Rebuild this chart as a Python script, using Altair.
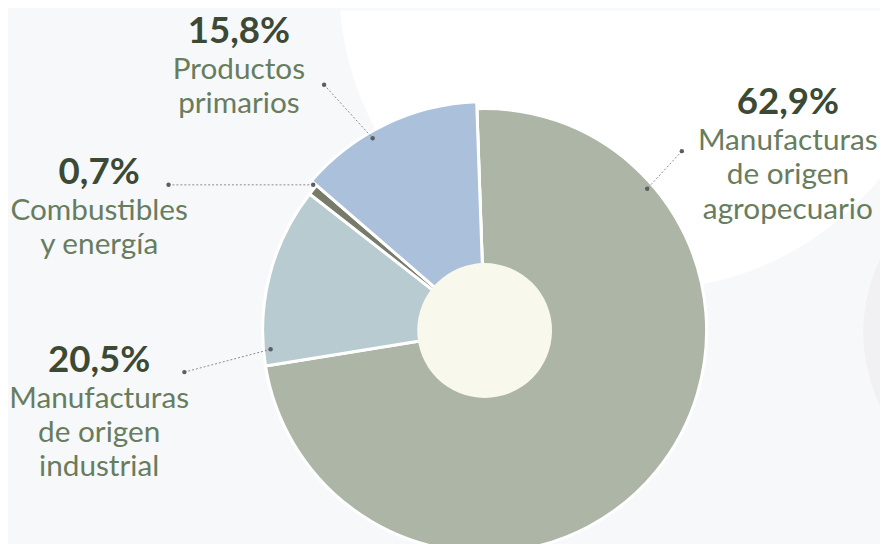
import math
import altair as alt
import pandas as pd

# ---------------- data ----------------
categories = [
    "Manufacturas de origen agropecuario",
    "Manufacturas de origen industrial",
    "Combustibles y energía",
    "Productos primarios",
]
pct_labels = ["62,9%", "20,5%", "0,7%", "15,8%"]
# angular share of each slice as it is drawn in the picture (percent of the circle)
arc_share = [73.0, 13.1, 0.8, 13.1]
name_lines = [
    ["Manufacturas", "de origen", "agropecuario"],
    ["Manufacturas", "de origen", "industrial"],
    ["Combustibles", "y energía"],
    ["Productos", "primarios"],
]

# ---------------- style / layout ----------------
slice_colors = ["#adb5a7", "#b8cbd1", "#767b6a", "#abc0da"]
PCT_COLOR = "#3c4a35"
NAME_COLOR = "#687c5e"
BG = "#f7f8fa"
FONT = "Lato"

M = 8  # page margin: layout below is given in page pixels
W, H = 888 - M, 544 - M
CX, CY = 489 - M, 331 - M
R_OUT, R_BLUE, R_IN = 224, 231, 68
START = math.radians(-2.0)

# label anchor (centre x, baseline of percentage) per category, page pixels
label_anchor = [(795, 113), (100, 373), (100, 183), (241, 41)]
# leader line (outer end, inner end) per category, page pixels
leader = [((688, 150), (653, 188)), ((186, 373), (273, 350)),
          ((170, 184), (316, 184)), ((327, 83), (376, 137))]
LINE_OFFS = [36, 70.5, 105]

# ---------------- tables ----------------
slice_df = pd.DataFrame({"cat": categories, "share": arc_share,
                         "order": list(range(len(categories)))})

pct_rows, name_rows = [], []
for i, cat in enumerate(categories):
    ax, ay = label_anchor[i]
    pct_rows.append({"text": pct_labels[i], "x": ax - M, "y": ay - M})
    for j, line in enumerate(name_lines[i]):
        name_rows.append({"text": line, "x": ax - M, "y": ay + LINE_OFFS[j] - M})
pct_df = pd.DataFrame(pct_rows)
name_df = pd.DataFrame(name_rows)

rule_df = pd.DataFrame([{"x": a[0] - M, "y": a[1] - M, "x2": b[0] - M, "y2": b[1] - M}
                        for a, b in leader])
dot_df = pd.DataFrame([{"x": p[0] - M, "y": p[1] - M} for ab in leader for p in ab])

one = alt.Data(values=[{"k": 0}])
FULL = 2 * math.pi

# ---------------- decorative background ----------------
white_blob = alt.Chart(one).mark_arc(
    theta=0, theta2=FULL, outerRadius=308, color="#ffffff", clip=True
).encode(x=alt.value(650 - M), y=alt.value(-18 - M))

grey_blob = alt.Chart(one).mark_arc(
    theta=0, theta2=FULL, outerRadius=167, color="#f1f1f4", clip=True
).encode(x=alt.value(1038 - M), y=alt.value(333 - M))

# ---------------- donut ----------------
theta_scale = alt.Scale(domain=[0, 100], range=[START, START + FULL])
color_scale = alt.Scale(domain=categories, range=slice_colors)

stacked = alt.Chart(slice_df).transform_window(
    cum="sum(share)", sort=[alt.SortField("order")], frame=[None, 0]
).transform_calculate(t0="datum.cum - datum.share")

arcs = stacked.mark_arc(outerRadius=R_OUT, stroke="white", strokeWidth=3).encode(
    theta=alt.Theta("t0:Q", scale=theta_scale),
    theta2="cum:Q",
    color=alt.Color("cat:N", scale=color_scale, legend=None),
    x=alt.value(CX), y=alt.value(CY),
)

blue_arc = stacked.transform_filter(
    alt.datum.cat == "Productos primarios"
).mark_arc(outerRadius=R_BLUE, stroke="white", strokeWidth=3).encode(
    theta=alt.Theta("t0:Q", scale=theta_scale),
    theta2="cum:Q",
    color=alt.Color("cat:N", scale=color_scale, legend=None),
    x=alt.value(CX), y=alt.value(CY),
)

hole = alt.Chart(one).mark_arc(
    theta=0, theta2=FULL, outerRadius=R_IN, color="#f9f8ec"
).encode(x=alt.value(CX), y=alt.value(CY))

# ---------------- leaders & labels ----------------
rules = alt.Chart(rule_df).mark_rule(
    color="#8c8c8c", strokeWidth=1, strokeDash=[2, 2]
).encode(
    x=alt.X("x:Q", scale=None, axis=None), y=alt.Y("y:Q", scale=None, axis=None),
    x2="x2:Q", y2="y2:Q",
)

dots = alt.Chart(dot_df).mark_circle(color="#5e5e5e", opacity=1, size=20).encode(
    x=alt.X("x:Q", scale=None, axis=None), y=alt.Y("y:Q", scale=None, axis=None)
)

pct_text = alt.Chart(pct_df).mark_text(
    font=FONT, fontSize=37, fontWeight="bold", color=PCT_COLOR,
    align="center", baseline="alphabetic"
).encode(
    x=alt.X("x:Q", scale=None, axis=None), y=alt.Y("y:Q", scale=None, axis=None),
    text="text:N",
)

name_text = alt.Chart(name_df).mark_text(
    font=FONT, fontSize=30, color=NAME_COLOR,
    align="center", baseline="alphabetic"
).encode(
    x=alt.X("x:Q", scale=None, axis=None), y=alt.Y("y:Q", scale=None, axis=None),
    text="text:N",
)

chart = alt.layer(
    white_blob, grey_blob, arcs, blue_arc, hole, rules, dots, pct_text, name_text
).properties(
    width=W, height=H, padding=0, background=BG,
    autosize=alt.AutoSizeParams(type="none"),
).configure_view(stroke=None)

chart.save("out.html", embed_options={"renderer": "svg", "actions": False})
